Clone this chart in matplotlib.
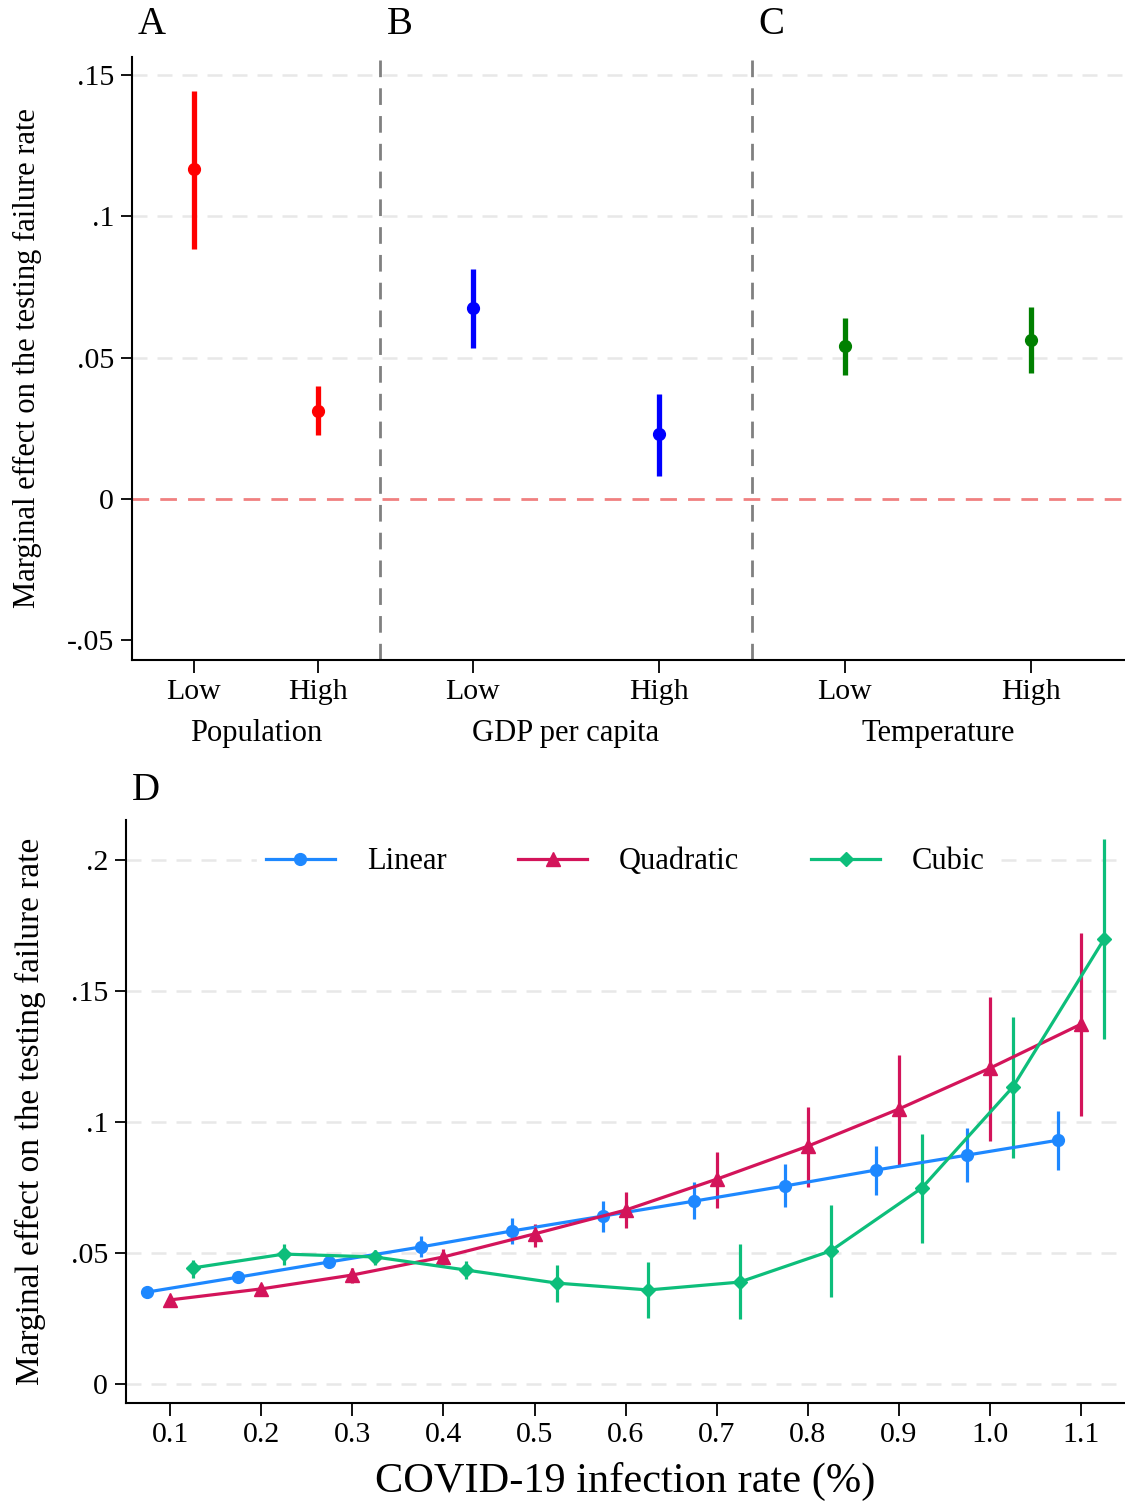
import matplotlib
matplotlib.use("Agg")
import matplotlib.pyplot as plt
from matplotlib.lines import Line2D
import matplotlib.transforms as mtransforms

plt.rcParams['font.family'] = ['Liberation Serif', 'DejaVu Serif']

# ---------------- Data: panels A-C ----------------
groups = ["Population", "GDP per capita", "Temperature"]
levels = ["Low", "High"]
group_colors = ["#FF0000", "#0000FF", "#008000"]
est_top = [[0.1165, 0.0312], [0.0675, 0.0228], [0.0540, 0.0562]]
lo_top = [[0.0884, 0.0225], [0.0535, 0.0082], [0.0437, 0.0446]]
hi_top = [[0.1443, 0.0399], [0.0814, 0.0372], [0.0639, 0.0677]]
top_yticks = [-0.05, 0, 0.05, 0.1, 0.15]
top_yticklabels = ["-.05", "0", ".05", ".1", ".15"]
panel_letters = ["A", "B", "C"]

# ---------------- Data: panel D ----------------
x_lin = [0.075, 0.175, 0.275, 0.375, 0.475, 0.575, 0.675, 0.775, 0.875, 0.975, 1.075]
y_lin = [0.0351, 0.0408, 0.0466, 0.0523, 0.0584, 0.0641, 0.0698, 0.0756, 0.0817, 0.0874, 0.0931]
lo_lin = [0.0336, 0.0389, 0.0443, 0.0485, 0.0534, 0.0580, 0.0630, 0.0676, 0.0721, 0.0771, 0.0817]
hi_lin = [0.0366, 0.0427, 0.0489, 0.0565, 0.0634, 0.0698, 0.0771, 0.0840, 0.0908, 0.0977, 0.1042]

x_quad = [0.1, 0.2, 0.3, 0.4, 0.5, 0.6, 0.7, 0.8, 0.9, 1.0, 1.1]
y_quad = [0.0321, 0.0363, 0.0416, 0.0485, 0.0573, 0.0664, 0.0782, 0.0908, 0.1050, 0.1206, 0.1374]
lo_quad = [0.0309, 0.0344, 0.0385, 0.0454, 0.0523, 0.0595, 0.0672, 0.0752, 0.0836, 0.0927, 0.1023]
hi_quad = [0.0332, 0.0382, 0.0443, 0.0515, 0.0611, 0.0733, 0.0885, 0.1057, 0.1256, 0.1477, 0.1721]

x_cub = [0.125, 0.225, 0.325, 0.425, 0.525, 0.625, 0.725, 0.825, 0.925, 1.025, 1.125]
y_cub = [0.0443, 0.0496, 0.0485, 0.0435, 0.0385, 0.0359, 0.0389, 0.0508, 0.0748, 0.1134, 0.1698]
lo_cub = [0.0405, 0.0454, 0.0454, 0.0401, 0.0313, 0.0252, 0.0248, 0.0332, 0.0538, 0.0863, 0.1317]
hi_cub = [0.0473, 0.0534, 0.0511, 0.0469, 0.0454, 0.0466, 0.0534, 0.0683, 0.0954, 0.1401, 0.2080]

series_names = ["Linear", "Quadratic", "Cubic"]
series_colors = ["#1E88FF", "#D3145A", "#0DBE7B"]
series_markers = ["o", "^", "D"]

bot_xticks = [0.1, 0.2, 0.3, 0.4, 0.5, 0.6, 0.7, 0.8, 0.9, 1.0, 1.1]
bot_xticklabels = ["0.1", "0.2", "0.3", "0.4", "0.5", "0.6", "0.7", "0.8", "0.9", "1.0", "1.1"]
bot_yticks = [0, 0.05, 0.1, 0.15, 0.2]
bot_yticklabels = ["0", ".05", ".1", ".15", ".2"]

ylabel_text = "Marginal effect on the testing failure rate"
xlabel_text = "COVID-19 infection rate (%)"

# ---------------- Figure ----------------
W, H = 1125, 1502
fig = plt.figure(figsize=(W / 100, H / 100), dpi=100)

def rect(l, t, r, b):
    return [l / W, 1 - b / H, (r - l) / W, (b - t) / H]

GRID = "#E8E8E8"
SPINE_LW = 1.5
TICKFS = 21.5

# ---------- Top panel ----------
ax1 = fig.add_axes(rect(132, 57, 1125, 660))
spans = [2.0, 3.0, 3.0]
offs = [(0.5, 1.5), (0.75, 2.25), (0.75, 2.25)]
start = 0.5
xt, xtl, centers, dividers, starts = [], [], [], [], []
for gi, g in enumerate(groups):
    starts.append(start)
    px = [start + o for o in offs[gi]]
    for li in range(2):
        e = est_top[gi][li]
        ax1.plot([px[li], px[li]], [lo_top[gi][li], hi_top[gi][li]],
                 color=group_colors[gi], lw=3.8, solid_capstyle='butt', zorder=3)
        ax1.plot(px[li], e, 'o', color=group_colors[gi], ms=8.5, zorder=4)
        xt.append(px[li]); xtl.append(levels[li])
    centers.append(sum(px) / 2)
    start += spans[gi]
    if gi < len(groups) - 1:
        dividers.append(start)

for yv in [0.05, 0.1, 0.15]:
    ax1.axhline(yv, color=GRID, lw=1.8, dashes=(6, 4), zorder=0)
ax1.axhline(0, color="#F08080", lw=2.0, dashes=(6, 4), zorder=1)
for d in dividers:
    ax1.axvline(d, color="#808080", lw=2.0, dashes=(6, 4), zorder=2)

ax1.set_xlim(0.5, 8.51)
ax1.set_ylim(-0.0569, 0.1562)
ax1.set_xticks(xt)
ax1.set_xticklabels(xtl, fontsize=TICKFS)
ax1.set_yticks(top_yticks)
ax1.set_yticklabels(top_yticklabels, fontsize=TICKFS)
ax1.tick_params(axis='x', length=9, width=1.3, pad=5)
ax1.tick_params(axis='y', length=8, width=1.3, pad=5)
for s in ['top', 'right']:
    ax1.spines[s].set_visible(False)
for s in ['left', 'bottom']:
    ax1.spines[s].set_linewidth(SPINE_LW)
ax1.set_ylabel(ylabel_text, fontsize=22)
ax1.yaxis.set_label_coords(-0.091, 0.5)

trans1 = mtransforms.blended_transform_factory(ax1.transData, fig.transFigure)
for c, g in zip(centers, groups):
    ax1.text(c, 1 - 733 / H, g, transform=trans1, ha='center', va='center', fontsize=22)
for s0, L in zip(starts, panel_letters):
    ax1.text(s0 + 0.16, 1 - 24 / H, L, transform=trans1, ha='center', va='center', fontsize=28)

# ---------- Bottom panel ----------
ax2 = fig.add_axes(rect(126, 820, 1125, 1403))
for yv in bot_yticks:
    ax2.axhline(yv, color=GRID, lw=1.8, dashes=(6, 4), zorder=0)

data = [(x_lin, y_lin, lo_lin, hi_lin), (x_quad, y_quad, lo_quad, hi_quad), (x_cub, y_cub, lo_cub, hi_cub)]
msizes = [8.5, 9.5, 7.5]
handles = []
for (xs, ys, lo, hi), name, col, mk, msz in zip(data, series_names, series_colors, series_markers, msizes):
    yerr = [[y - l for y, l in zip(ys, lo)], [h - y for y, h in zip(ys, hi)]]
    ax2.errorbar(xs, ys, yerr=yerr, fmt='none', ecolor=col, elinewidth=2.3, capsize=0, zorder=3)
    ax2.plot(xs, ys, color=col, lw=2.3, marker=mk, ms=msz, zorder=4)
    handles.append(Line2D([0], [0], color=col, lw=2.3, marker=mk, ms=msz))

ax2.set_xlim(0.0517, 1.148)
ax2.set_ylim(-0.00725, 0.2153)
ax2.set_xticks(bot_xticks)
ax2.set_xticklabels(bot_xticklabels, fontsize=TICKFS)
ax2.set_yticks(bot_yticks)
ax2.set_yticklabels(bot_yticklabels, fontsize=TICKFS)
ax2.tick_params(axis='x', length=9, width=1.3, pad=5)
ax2.tick_params(axis='y', length=8, width=1.3, pad=5)
for s in ['top', 'right']:
    ax2.spines[s].set_visible(False)
for s in ['left', 'bottom']:
    ax2.spines[s].set_linewidth(SPINE_LW)
ax2.set_ylabel(ylabel_text, fontsize=24)
ax2.yaxis.set_label_coords(-0.08, 0.5)
ax2.set_xlabel(xlabel_text, fontsize=30.5, labelpad=10)

leg = ax2.legend(handles, series_names, loc='center', bbox_to_anchor=(0.5, 0.928), ncol=3,
                 fontsize=22, frameon=True, facecolor='white', edgecolor='white', framealpha=1,
                 handlelength=2.25, handletextpad=1.05, columnspacing=2.35, borderpad=0.3, fancybox=False)
leg.set_zorder(5)

trans2 = mtransforms.blended_transform_factory(ax2.transData, fig.transFigure)
ax2.text(0.073, 1 - 790 / H, "D", transform=trans2, ha='center', va='center', fontsize=28)

fig.savefig("out.png", dpi=100)
